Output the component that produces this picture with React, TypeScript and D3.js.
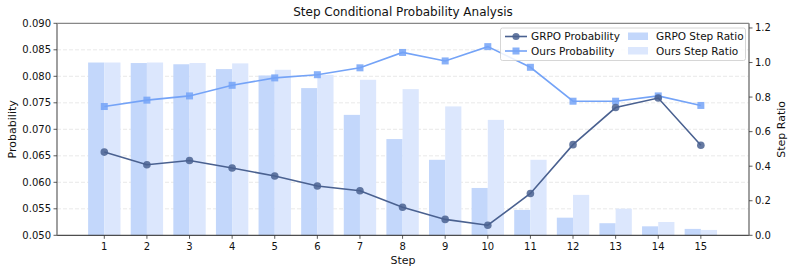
import React from "react";
import { scaleLinear, line } from "d3";

const steps = [1, 2, 3, 4, 5, 6, 7, 8, 9, 10, 11, 12, 13, 14, 15];
const grpoProb = [0.0657, 0.0633, 0.0641, 0.0627, 0.0612, 0.0593, 0.0584, 0.0553, 0.053, 0.0519, 0.0579, 0.0671, 0.0741, 0.0759, 0.067];
const oursProb = [0.0743, 0.0755, 0.0763, 0.0783, 0.0797, 0.0803, 0.0816, 0.0845, 0.0829, 0.0856, 0.0817, 0.0753, 0.0753, 0.0763, 0.0745];
const grpoRatio = [1.0, 0.997, 0.99, 0.962, 0.925, 0.852, 0.697, 0.557, 0.437, 0.274, 0.147, 0.102, 0.07, 0.052, 0.037];
const oursRatio = [1.0, 1.0, 0.997, 0.995, 0.958, 0.929, 0.9, 0.846, 0.746, 0.668, 0.437, 0.234, 0.154, 0.077, 0.031];
const probTicks = [0.05, 0.055, 0.06, 0.065, 0.07, 0.075, 0.08, 0.085, 0.09];
const ratioTicks = [0, 0.2, 0.4, 0.6, 0.8, 1.0, 1.2];

const width = 793;
const height = 273;
const left = 57;
const right = 749;
const top = 23.3;
const bottom = 235.3;

const font = "'DejaVu Sans', sans-serif";
const grpoLine = "#4a6190";
const oursLine = "#74a3f7";
const grpoBar = "#c3d7fb";
const oursBar = "#dce7fd";

const App = () => {
  const x = scaleLinear().domain([-0.11, 16.13]).range([left, right]);
  const y = scaleLinear().domain([0.05, 0.09]).range([bottom, top]);
  const y2 = scaleLinear().domain([0, 1.227]).range([bottom, top]);
  const bw = x(0.38) - x(0);

  const pts = (vals: number[]) => vals.map((v, i) => [x(steps[i]), y(v)] as [number, number]);
  const path = line();

  return (
    <svg width={width} height={height} style={{ position: "absolute", left: 0, top: 0 }} fontFamily={font}>
      <rect width={width} height={height} fill="#fff" />
      {/* grid */}
      {probTicks.slice(1, -1).map((t) => (
        <line key={t} x1={left} x2={right} y1={y(t)} y2={y(t)} stroke="#e3e3e3" strokeWidth={0.8} strokeDasharray="4,2" />
      ))}
      {/* bars */}
      {steps.map((s, i) => (
        <g key={s}>
          <rect x={x(s) - bw} y={y2(grpoRatio[i])} width={bw} height={bottom - y2(grpoRatio[i])} fill={grpoBar} />
          <rect x={x(s)} y={y2(oursRatio[i])} width={bw} height={bottom - y2(oursRatio[i])} fill={oursBar} />
        </g>
      ))}
      {/* lines */}
      <path d={path(pts(oursProb)) || ""} fill="none" stroke={oursLine} strokeWidth={1.6} />
      {pts(oursProb).map(([px, py], i) => (
        <rect key={i} x={px - 3.5} y={py - 3.5} width={7} height={7} fill={oursLine} fillOpacity={0.85} />
      ))}
      <path d={path(pts(grpoProb)) || ""} fill="none" stroke={grpoLine} strokeWidth={1.6} />
      {pts(grpoProb).map(([px, py], i) => (
        <circle key={i} cx={px} cy={py} r={3.8} fill={grpoLine} fillOpacity={0.85} />
      ))}
      {/* spines */}
      <line x1={left} x2={right} y1={top} y2={top} stroke="#444" strokeWidth={0.8} />
      <line x1={left} x2={right} y1={bottom} y2={bottom} stroke="#222" strokeWidth={1} />
      <line x1={left} x2={left} y1={top} y2={bottom} stroke="#888" strokeWidth={1.6} />
      <line x1={right} x2={right} y1={top} y2={bottom} stroke="#888" strokeWidth={1.6} />
      {/* left ticks */}
      {probTicks.map((t) => (
        <g key={t}>
          <line x1={left - 3.5} x2={left} y1={y(t)} y2={y(t)} stroke="#333" strokeWidth={0.8} />
          <text x={left - 6} y={y(t)} dy="0.35em" textAnchor="end" fontSize={10} fill="#111">
            {t.toFixed(3)}
          </text>
        </g>
      ))}
      {/* right ticks */}
      {ratioTicks.map((t) => (
        <g key={t}>
          <line x1={right} x2={right + 3.5} y1={y2(t)} y2={y2(t)} stroke="#333" strokeWidth={0.8} />
          <text x={right + 6} y={y2(t)} dy="0.35em" textAnchor="start" fontSize={10} fill="#111">
            {t.toFixed(1)}
          </text>
        </g>
      ))}
      {/* bottom ticks */}
      {steps.map((s) => (
        <g key={s}>
          <line x1={x(s)} x2={x(s)} y1={bottom} y2={bottom + 3.5} stroke="#333" strokeWidth={0.8} />
          <text x={x(s)} y={bottom + 14.5} textAnchor="middle" fontSize={10} fill="#111">
            {s}
          </text>
        </g>
      ))}
      {/* labels */}
      <text x={(left + right) / 2} y={16} textAnchor="middle" fontSize={12} fill="#111">
        Step Conditional Probability Analysis
      </text>
      <text x={(left + right) / 2} y={264} textAnchor="middle" fontSize={11} fill="#111">
        Step
      </text>
      <text transform={`translate(16,${(top + bottom) / 2}) rotate(-90)`} textAnchor="middle" fontSize={11} fill="#111">
        Probability
      </text>
      <text transform={`translate(785,${(top + bottom) / 2}) rotate(-90)`} textAnchor="middle" fontSize={11} fill="#111">
        Step Ratio
      </text>
      {/* legend */}
      <g fontSize={10.5} fill="#111">
        <rect x={500.5} y={28} width={245} height={32.5} rx={2} fill="#fff" fillOpacity={0.85} stroke="#ccc" strokeWidth={0.8} />
        <line x1={505} x2={527} y1={36.5} y2={36.5} stroke={grpoLine} strokeWidth={1.6} />
        <circle cx={516} cy={36.5} r={3.6} fill={grpoLine} fillOpacity={0.85} />
        <text x={531} y={36.5} dy="0.35em">GRPO Probability</text>
        <line x1={505} x2={527} y1={51} y2={51} stroke={oursLine} strokeWidth={1.6} />
        <rect x={512.5} y={47.5} width={7} height={7} fill={oursLine} fillOpacity={0.85} />
        <text x={531} y={51} dy="0.35em">Ours Probability</text>
        <rect x={628} y={32.5} width={20} height={7.5} fill={grpoBar} />
        <text x={656} y={36.5} dy="0.35em">GRPO Step Ratio</text>
        <rect x={628} y={47} width={20} height={7.5} fill={oursBar} />
        <text x={656} y={51} dy="0.35em">Ours Step Ratio</text>
      </g>
    </svg>
  );
};

export default App;
